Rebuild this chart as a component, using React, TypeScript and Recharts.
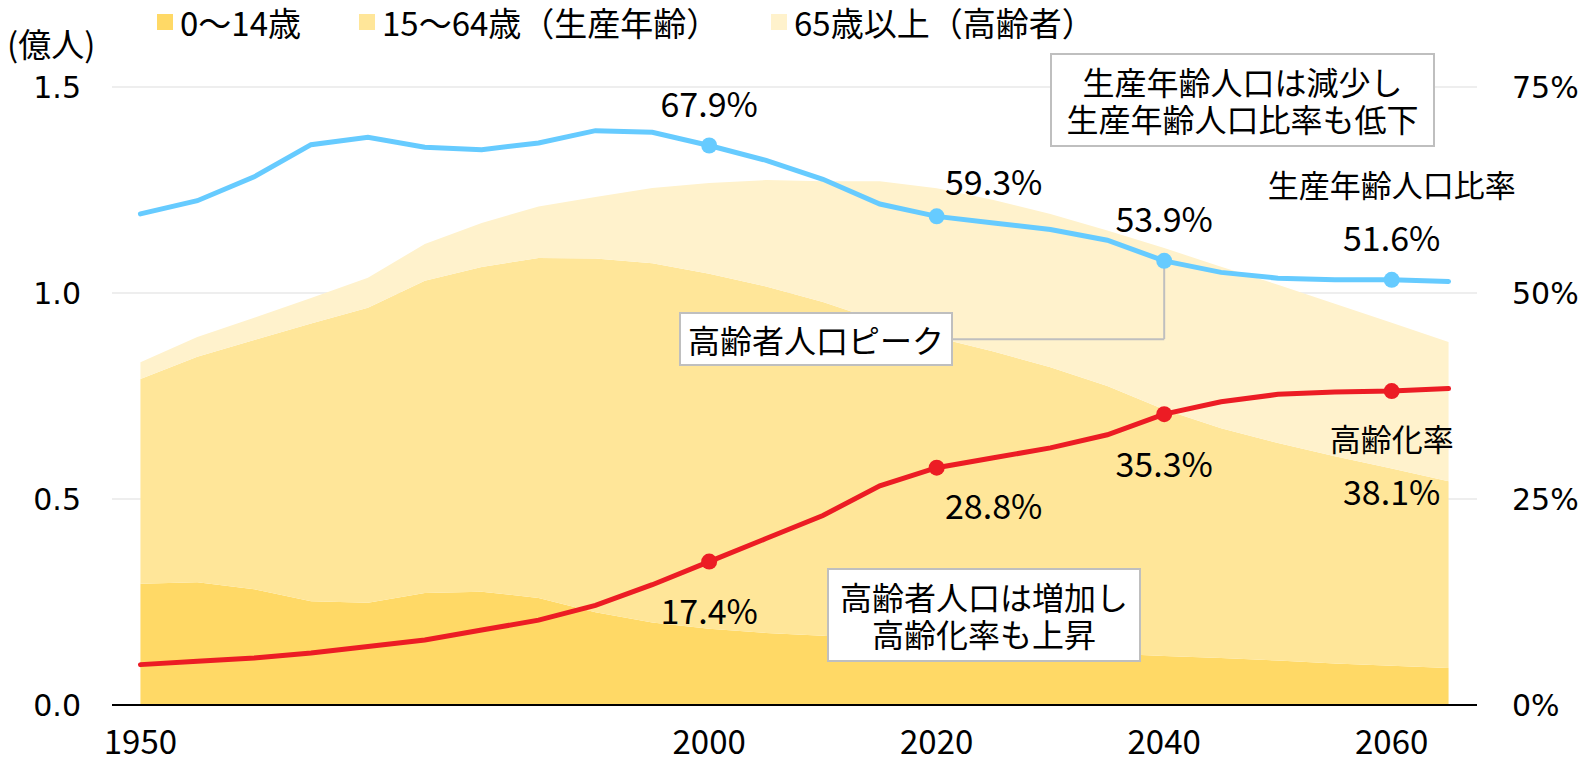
import React from 'react';
import {
  ComposedChart,
  Area,
  Line,
  XAxis,
  YAxis,
  CartesianGrid,
  LabelList,
  ReferenceLine,
} from 'recharts';

// population in 100 million (億人), ratios in %
const years = [
  1950, 1955, 1960, 1965, 1970, 1975, 1980, 1985, 1990, 1995, 2000, 2005,
  2010, 2015, 2020, 2025, 2030, 2035, 2040, 2045, 2050, 2055, 2060, 2065,
];
const pop0to14 = [
  0.294, 0.298, 0.281, 0.252, 0.248, 0.272, 0.275, 0.26, 0.225, 0.2, 0.185, 0.175,
  0.168, 0.159, 0.151, 0.141, 0.132, 0.125, 0.119, 0.114, 0.108, 0.101, 0.095, 0.09,
];
const pop15to64 = [
  0.497, 0.547, 0.605, 0.674, 0.716, 0.758, 0.788, 0.825, 0.859, 0.872, 0.862, 0.841,
  0.81, 0.773, 0.741, 0.717, 0.688, 0.649, 0.598, 0.558, 0.528, 0.503, 0.479, 0.453,
];
const pop65plus = [
  0.041, 0.048, 0.054, 0.062, 0.073, 0.089, 0.107, 0.125, 0.149, 0.183, 0.22, 0.258,
  0.293, 0.339, 0.362, 0.368, 0.372, 0.378, 0.392, 0.392, 0.384, 0.37, 0.354, 0.338,
];
const workingAgeRatio = [
  59.6, 61.2, 64.1, 68.0, 68.9, 67.7, 67.4, 68.2, 69.7, 69.5, 67.9, 66.1,
  63.8, 60.8, 59.3, 58.5, 57.7, 56.4, 53.9, 52.5, 51.8, 51.6, 51.6, 51.4,
];
const agingRatio = [
  4.9, 5.3, 5.7, 6.3, 7.1, 7.9, 9.1, 10.3, 12.1, 14.6, 17.4, 20.2,
  23.0, 26.6, 28.8, 30.0, 31.2, 32.8, 35.3, 36.8, 37.7, 38.0, 38.1, 38.4,
];

const markerYears = [2000, 2020, 2040, 2060];
const xTicks = [1950, 2000, 2020, 2040, 2060];
const leftTicks = [0, 0.5, 1, 1.5];
const rightTicks = [0, 25, 50, 75];
const legendLabels = ['0〜14歳', '15〜64歳（生産年齢）', '65歳以上（高齢者）'];

const data = years.map((year, i) => ({
  year,
  young: pop0to14[i],
  working: pop15to64[i],
  elderly: pop65plus[i],
  workRatio: workingAgeRatio[i],
  agingRate: agingRatio[i],
}));

const JP = '"Noto Sans CJK JP", sans-serif';
const NUM = '"DejaVu Sans", sans-serif';
const areaColors = ['#FFD966', '#FFE699', '#FFF2CC'];
const BLUE = '#66CBFF';
const RED = '#EC1C24';
const BOX = '#BFBFBF';

const markerDot = (color: string) => (props: any) => {
  const { cx, cy, payload, index } = props;
  if (!markerYears.includes(payload.year)) return <g key={`d${index}`} />;
  return <circle key={`d${index}`} cx={cx} cy={cy} r={8} fill={color} />;
};

const pctText = (x: number, y: number, value: number) => (
  <text x={x} y={y} textAnchor="middle" dominantBaseline="central"
    fontSize={34} fontFamily={JP} fill="#000">
    {value.toFixed(1)}%
  </text>
);

const blueLabel = (props: any) => {
  const { x, y, value, index } = props;
  const year = years[index];
  if (!markerYears.includes(year)) return null;
  const dx = year === 2020 ? 57 : 0;
  const dy = year === 2020 ? -36 : -43;
  return (
    <g>
      {pctText(x + dx, y + dy, value)}
      {year === 2060 && (
        <text x={x} y={y - 96} textAnchor="middle" dominantBaseline="central"
          fontSize={31} fontFamily={JP} fill="#000">
          生産年齢人口比率
        </text>
      )}
    </g>
  );
};

const redLabel = (props: any) => {
  const { x, y, value, index } = props;
  const year = years[index];
  if (!markerYears.includes(year)) return null;
  const dx = year === 2020 ? 57 : 0;
  const dy = year === 2020 ? 37 : year === 2060 ? 99 : 48;
  return (
    <g>
      {pctText(x + dx, y + dy, value)}
      {year === 2060 && (
        <text x={x} y={y + 46} textAnchor="middle" dominantBaseline="central"
          fontSize={31} fontFamily={JP} fill="#000">
          高齢化率
        </text>
      )}
    </g>
  );
};

const boxStyle: React.CSSProperties = {
  position: 'absolute',
  boxSizing: 'border-box',
  border: `2px solid ${BOX}`,
  background: '#fff',
  fontFamily: JP,
  fontSize: 32,
  lineHeight: '37px',
  color: '#000',
  textAlign: 'center',
  display: 'flex',
  flexDirection: 'column',
  justifyContent: 'center',
};

const legendLeft = [157, 359, 771];

export default function App() {
  return (
    <div style={{ position: 'absolute', left: 0, top: 0, width: 1585, height: 764, fontFamily: JP }}>
      <ComposedChart width={1585} height={764} data={data}
        margin={{ top: 87, right: 0, bottom: 0, left: 0 }}>
        <CartesianGrid yAxisId="left" vertical={false} stroke="#E8E8E8" strokeWidth={1.5} />
        <XAxis
          dataKey="year"
          type="number"
          domain={[1947.5, 2067.5]}
          ticks={xTicks}
          interval={0}
          height={59}
          axisLine={{ stroke: '#000', strokeWidth: 2 }}
          tickLine={false}
          tickMargin={20}
          tick={{ fontSize: 33, fill: '#000', fontFamily: JP }}
        />
        <YAxis
          yAxisId="left"
          width={112}
          domain={[0, 1.5]}
          ticks={leftTicks}
          axisLine={false}
          tickLine={false}
          tickMargin={25}
          tickFormatter={(v) => v.toFixed(1)}
          tick={{ fontSize: 30, fill: '#000', fontFamily: NUM }}
        />
        <YAxis
          yAxisId="right"
          orientation="right"
          width={108}
          domain={[0, 75]}
          ticks={rightTicks}
          axisLine={false}
          tickLine={false}
          tickMargin={29}
          tickFormatter={(v) => `${v}%`}
          tick={{ fontSize: 30, fill: '#000', fontFamily: NUM }}
        />
        <Area yAxisId="left" type="linear" dataKey="young" stackId="pop" fill={areaColors[0]}
          fillOpacity={1} stroke="none" isAnimationActive={false} />
        <Area yAxisId="left" type="linear" dataKey="working" stackId="pop" fill={areaColors[1]}
          fillOpacity={1} stroke="none" isAnimationActive={false} />
        <Area yAxisId="left" type="linear" dataKey="elderly" stackId="pop" fill={areaColors[2]}
          fillOpacity={1} stroke="none" isAnimationActive={false} />
        <ReferenceLine yAxisId="right" stroke={BOX} strokeWidth={2}
          segment={[{ x: 2021.3, y: 44.4 }, { x: 2040, y: 44.4 }]} />
        <ReferenceLine yAxisId="right" stroke={BOX} strokeWidth={2}
          segment={[{ x: 2040, y: 44.4 }, { x: 2040, y: 53.9 }]} />
        <Line yAxisId="right" type="linear" dataKey="agingRate" stroke={RED} strokeWidth={5}
          strokeLinecap="round" dot={markerDot(RED)} activeDot={false} isAnimationActive={false}>
          <LabelList dataKey="agingRate" content={redLabel} />
        </Line>
        <Line yAxisId="right" type="linear" dataKey="workRatio" stroke={BLUE} strokeWidth={5}
          strokeLinecap="round" dot={markerDot(BLUE)} activeDot={false} isAnimationActive={false}>
          <LabelList dataKey="workRatio" content={blueLabel} />
        </Line>
      </ComposedChart>

      <div style={{ position: 'absolute', left: 7, top: 23, fontSize: 33, lineHeight: '40px', color: '#000' }}>
        (億人)
      </div>

      {legendLabels.map((label, i) => (
        <div key={label} style={{ position: 'absolute', left: legendLeft[i], top: 2, height: 40,
          display: 'flex', alignItems: 'center', fontSize: 33, color: '#000', whiteSpace: 'nowrap' }}>
          <span style={{ display: 'inline-block', width: 16, height: 16, background: areaColors[i], marginRight: 7 }} />
          {label}
        </div>
      ))}

      <div style={{ ...boxStyle, left: 1050, top: 53, width: 385, height: 94 }}>
        <div>生産年齢人口は減少し</div>
        <div>生産年齢人口比率も低下</div>
      </div>
      <div style={{ ...boxStyle, left: 679, top: 312, width: 274, height: 54 }}>
        <div>高齢者人口ピーク</div>
      </div>
      <div style={{ ...boxStyle, left: 827, top: 568, width: 314, height: 94 }}>
        <div>高齢者人口は増加し</div>
        <div>高齢化率も上昇</div>
      </div>
    </div>
  );
}
